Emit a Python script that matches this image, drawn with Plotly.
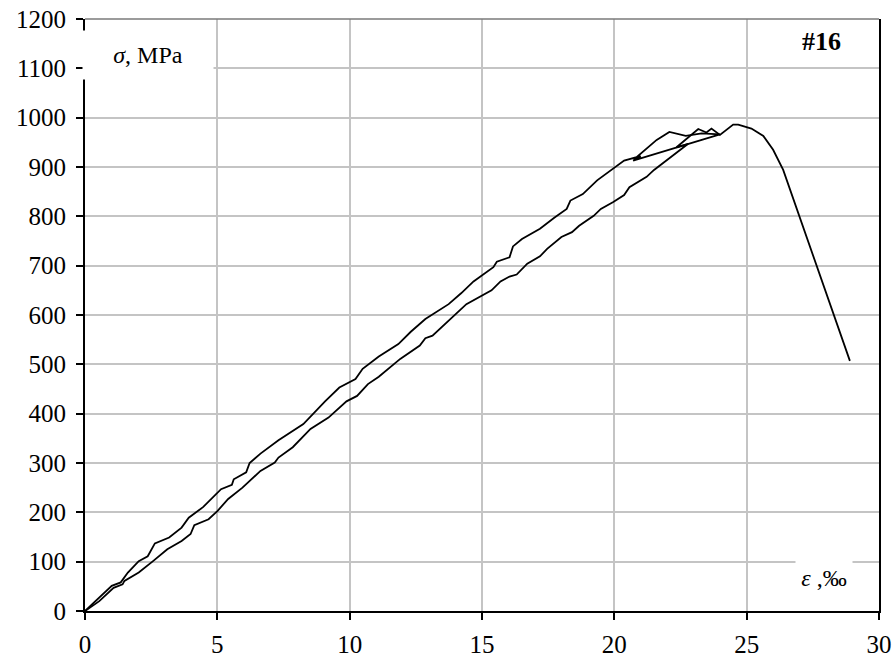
import plotly.graph_objects as go

# Upper branch (loading path with small loop near the peak)
upper_strain = [0, 0.5, 1.01, 1.35, 1.62, 2.03, 2.37, 2.64, 3.18, 3.65, 3.92, 4.47, 5.14, 5.55, 5.62,
                6.09, 6.22, 6.63, 7.31, 8.25, 9.07, 9.61, 10.22, 10.49, 11.10, 11.84, 12.31, 12.86,
                13.74, 14.21, 14.68, 15.43, 15.56, 16.04, 16.17, 16.51, 17.19, 17.73, 18.20, 18.34,
                18.81, 19.35, 19.96, 20.37, 20.84, 21.22, 21.6, 22.08, 22.7, 23.3, 23.99, 20.71, 21.0]
upper_stress = [0, 25, 51, 58, 78, 101, 111, 137, 149, 169, 189, 211, 247, 256, 267,
                281, 300, 319, 346, 379, 425, 453, 470, 491, 516, 541, 566, 592,
                622, 644, 668, 697, 708, 717, 739, 754, 775, 797, 815, 832,
                845, 873, 897, 913, 920, 937, 955, 971, 963, 968, 966, 913, 922]

# Lower branch (reloading path, peak and softening)
lower_strain = [0, 0.54, 1.08, 1.42, 1.49, 2.03, 2.57, 3.11, 3.65, 3.99, 4.13, 4.67, 5.01, 5.41, 5.95,
                6.36, 6.63, 7.17, 7.31, 7.85, 8.52, 9.20, 9.88, 10.28, 10.69, 11.10, 11.71, 11.91,
                12.65, 12.86, 13.13, 13.67, 13.94, 14.41, 15.36, 15.70, 16.04, 16.31, 16.71, 17.19,
                17.46, 18.00, 18.40, 18.67, 19.22, 19.49, 19.96, 20.37, 20.57, 21.22, 21.5, 22.1,
                22.79, 22.35, 23.17, 23.48, 23.67, 23.99, 24.49, 24.68, 25.18, 25.63, 26.0, 26.38, 28.9]
lower_stress = [0, 20, 47, 54, 61, 78, 101, 125, 142, 156, 174, 186, 203, 227, 250,
                271, 284, 301, 311, 332, 369, 392, 425, 436, 460, 475, 501, 511,
                538, 553, 558, 585, 599, 622, 650, 668, 678, 682, 704, 719,
                734, 758, 768, 781, 801, 815, 829, 843, 859, 880, 894, 918,
                947, 940, 977, 970, 978, 965, 986, 986, 978, 963, 935, 894, 507]

x_ticks = [0, 5, 10, 15, 20, 25, 30]
y_ticks = [0, 100, 200, 300, 400, 500, 600, 700, 800, 900, 1000, 1100, 1200]

FONT = "Liberation Serif, Times New Roman, serif"

fig = go.Figure()
for xs, ys in [(upper_strain, upper_stress), (lower_strain, lower_stress)]:
    fig.add_trace(go.Scatter(x=xs, y=ys, mode="lines",
                             line=dict(color="black", width=1.8),
                             showlegend=False, hoverinfo="skip"))

W, H = 893, 657
L, R, T, B = 85, 14, 19, 46
pw, ph = W - L - R, H - T - B


def px2paper(px, py):
    return (px - L) / pw, (H - B - py) / ph


fig.update_layout(
    width=W, height=H,
    margin=dict(l=L, r=R, t=T, b=B),
    paper_bgcolor="white", plot_bgcolor="white",
    font=dict(family=FONT, size=25, color="black"),
    xaxis=dict(range=[0, 30], tickvals=x_ticks, ticktext=[str(v) for v in x_ticks],
               showgrid=True, gridcolor="#c4c4c4", gridwidth=1.5,
               showline=True, linecolor="black", linewidth=2,
               ticks="outside", ticklen=7, tickwidth=1.5, tickcolor="black",
               ticklabelstandoff=3,
               zeroline=False, fixedrange=True, automargin=False),
    yaxis=dict(range=[0, 1200], tickvals=y_ticks, ticktext=[str(v) for v in y_ticks],
               showgrid=True, gridcolor="#c4c4c4", gridwidth=1.5,
               showline=True, linecolor="black", linewidth=2, mirror=True,
               ticks="outside", ticklen=7, tickwidth=1.5, tickcolor="black",
               ticklabelstandoff=5,
               zeroline=False, fixedrange=True, automargin=False),
)

# top border (dark gray)
fig.add_shape(type="line", xref="paper", yref="paper", x0=0, x1=1, y0=1, y1=1,
              line=dict(color="#7a7a7a", width=1.5))

# sigma label with white box
sx, sy = px2paper(148, 55)
fig.add_annotation(xref="paper", yref="paper", x=sx, y=sy, xanchor="center", yanchor="middle",
                   text="<i>σ</i>, MPa", showarrow=False, bgcolor="white",
                   width=128, height=46, font=dict(family=FONT, size=24, color="black"))

# epsilon label
ex, ey = px2paper(824, 578)
fig.add_annotation(xref="paper", yref="paper", x=ex, y=ey, xanchor="center", yanchor="middle",
                   text="<i>ε</i> ,‰", showarrow=False, bgcolor="white",
                   width=54, height=36, font=dict(family=FONT, size=24, color="black"))

# specimen label
hx, hy = px2paper(821, 42)
fig.add_annotation(xref="paper", yref="paper", x=hx, y=hy, xanchor="center", yanchor="middle",
                   text="<b>#16</b>", showarrow=False,
                   font=dict(family=FONT, size=26, color="black"))

fig.write_html("out.html", config={"displayModeBar": False},
               post_script="document.body.style.margin='0';document.body.style.overflow='hidden';")
